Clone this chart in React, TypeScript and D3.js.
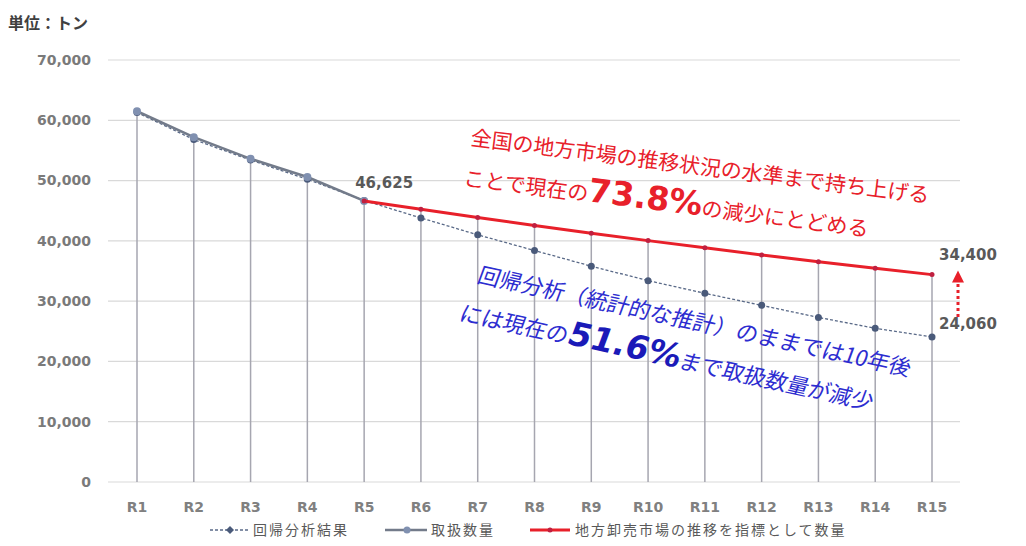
import * as d3 from 'd3';

const categories = ['R1', 'R2', 'R3', 'R4', 'R5', 'R6', 'R7', 'R8', 'R9', 'R10', 'R11', 'R12', 'R13', 'R14', 'R15'];
// 取扱数量 (actual, R1-R5)
const actualValues = [61500, 57200, 53600, 50600, 46625];
// 回帰分析結果 (regression, R1-R15)
const regressionValues = [61300, 56800, 53400, 50200, 46700, 43800, 41000, 38400, 35800, 33400, 31300, 29300, 27300, 25500, 24060];
// 地方卸売市場の推移を指標として数量 (R5-R15)
const targetValues = [46625, 45230, 43870, 42550, 41280, 40040, 38840, 37670, 36540, 35450, 34400];
const yTicks = [0, 10000, 20000, 30000, 40000, 50000, 60000, 70000];

const W = 1026;
const H = 546;
const NUM_FONT = '"DejaVu Sans", Verdana, sans-serif';
const JP_FONT = '"Noto Sans CJK JP", sans-serif';

export default function App() {
  const x = d3.scalePoint<string>().domain(categories).range([137, 932]);
  const y = d3.scaleLinear().domain([0, 70000]).range([482, 60]);
  const fmt = d3.format(',');

  const actualPts = actualValues.map((v, i) => [x(categories[i])!, y(v)] as [number, number]);
  const regPts = regressionValues.map((v, i) => [x(categories[i])!, y(v)] as [number, number]);
  const targetPts = targetValues.map((v, i) => [x(categories[i + 4])!, y(v)] as [number, number]);
  const line = d3.line();

  // drop lines from the highest value at each category
  const tops = categories.map((c, i) => {
    const vals = [regressionValues[i]];
    if (i < actualValues.length) vals.push(actualValues[i]);
    if (i >= 4) vals.push(targetValues[i - 4]);
    return { c, v: d3.max(vals)! };
  });

  const last = categories[categories.length - 1];
  const xLast = x(last)!;
  const ax = xLast + 26;
  const aTop = y(34400) - 2;

  return (
    <svg width={W} height={H} style={{ position: 'absolute', left: 0, top: 0, background: '#fff' }}>
      <text x={8} y={29} fontFamily={JP_FONT} fontSize={16} fontWeight="bold" fill="#404040">単位：トン</text>

      {yTicks.map((t) => (
        <g key={t}>
          <line x1={108} x2={960} y1={y(t)} y2={y(t)} stroke="#d9d9d9" strokeWidth={1.2} />
          <text x={91} y={y(t)} dy="0.35em" textAnchor="end" fontFamily={NUM_FONT} fontSize={14} fontWeight="bold" fill="#7a7a7a">
            {fmt(t)}
          </text>
        </g>
      ))}

      {categories.map((c) => (
        <text key={c} x={x(c)} y={507} dy="0.35em" textAnchor="middle" fontFamily={NUM_FONT} fontSize={14} fontWeight="bold" fill="#808080">
          {c}
        </text>
      ))}

      {tops.map((d) => (
        <line key={d.c} x1={x(d.c)} x2={x(d.c)} y1={y(d.v)} y2={y(0)} stroke="#a6a6b0" strokeWidth={1.5} />
      ))}

      <path d={line(regPts)!} fill="none" stroke="#5a6a88" strokeWidth={1.3} strokeDasharray="3,2" />
      {regPts.map((p, i) => (
        <circle key={'r' + i} cx={p[0]} cy={p[1]} r={3.5} fill="#4a5a7a" />
      ))}

      <path d={line(actualPts)!} fill="none" stroke="#737b8a" strokeWidth={2.6} />
      {actualPts.map((p, i) => (
        <circle key={'a' + i} cx={p[0]} cy={p[1]} r={4} fill="#8090b0" />
      ))}

      <path d={line(targetPts)!} fill="none" stroke="#e8202a" strokeWidth={3} />
      {targetPts.map((p, i) => (
        <circle key={'t' + i} cx={p[0]} cy={p[1]} r={2.5} fill="#c02040" />
      ))}

      <text x={x('R5')! + 20} y={y(46625) - 13} textAnchor="middle" fontFamily={NUM_FONT} fontSize={15} fontWeight="bold" fill="#595959">
        {fmt(46625)}
      </text>
      <text x={xLast + 36} y={y(34400) - 15} textAnchor="middle" fontFamily={NUM_FONT} fontSize={15} fontWeight="bold" fill="#595959">
        {fmt(34400)}
      </text>
      <text x={xLast + 36} y={y(24060) - 8} textAnchor="middle" fontFamily={NUM_FONT} fontSize={15} fontWeight="bold" fill="#595959">
        {fmt(24060)}
      </text>
      <line x1={ax} x2={ax} y1={y(24060) - 20} y2={aTop + 9} stroke="#e8202a" strokeWidth={3} strokeDasharray="3,3" />
      <path d={`M${ax},${aTop - 2} L${ax + 6},${aTop + 10} L${ax - 6},${aTop + 10} Z`} fill="#e8202a" />

      <g transform="translate(470,145) rotate(7.2)" fontFamily={JP_FONT} fill="#e8202a">
        <text x={0} y={0} fontSize={21}>全国の地方市場の推移状況の水準まで持ち上げる</text>
        <text x={-2} y={41} fontSize={21}>
          ことで現在の<tspan fontSize={33} fontWeight="bold" fontFamily={NUM_FONT}>73.8%</tspan>の減少にとどめる
        </text>
      </g>

      <g transform="translate(476,282) rotate(12.3) skewX(-8)" fontFamily={JP_FONT} fill="#2d2dd0">
        <text x={0} y={0} fontSize={22}>回帰分析（統計的な推計）のままでは10年後</text>
        <text x={-4} y={41} fontSize={22}>
          には現在の<tspan fontSize={33} fontWeight="bold" fontFamily={NUM_FONT} fill="#1a1ab8">51.6%</tspan>まで取扱数量が減少
        </text>
      </g>

      <g fontFamily={JP_FONT} fontSize={14} fill="#595959" letterSpacing={2}>
        <line x1={210} x2={248} y1={530} y2={530} stroke="#5a6a88" strokeWidth={1.3} strokeDasharray="3,2" />
        <path d="M230,526 L234,530 L230,534 L226,530 Z" fill="#4a5a7a" />
        <text x={253} y={530} dy="0.35em">回帰分析結果</text>
        <line x1={385} x2={427} y1={530} y2={530} stroke="#737b8a" strokeWidth={2.6} />
        <circle cx={407} cy={530} r={3.5} fill="#8090b0" />
        <text x={431} y={530} dy="0.35em">取扱数量</text>
        <line x1={530} x2={570} y1={530} y2={530} stroke="#e8202a" strokeWidth={3} />
        <circle cx={550} cy={530} r={2.5} fill="#c02040" />
        <text x={575} y={530} dy="0.35em">地方卸売市場の推移を指標として数量</text>
      </g>
    </svg>
  );
}
